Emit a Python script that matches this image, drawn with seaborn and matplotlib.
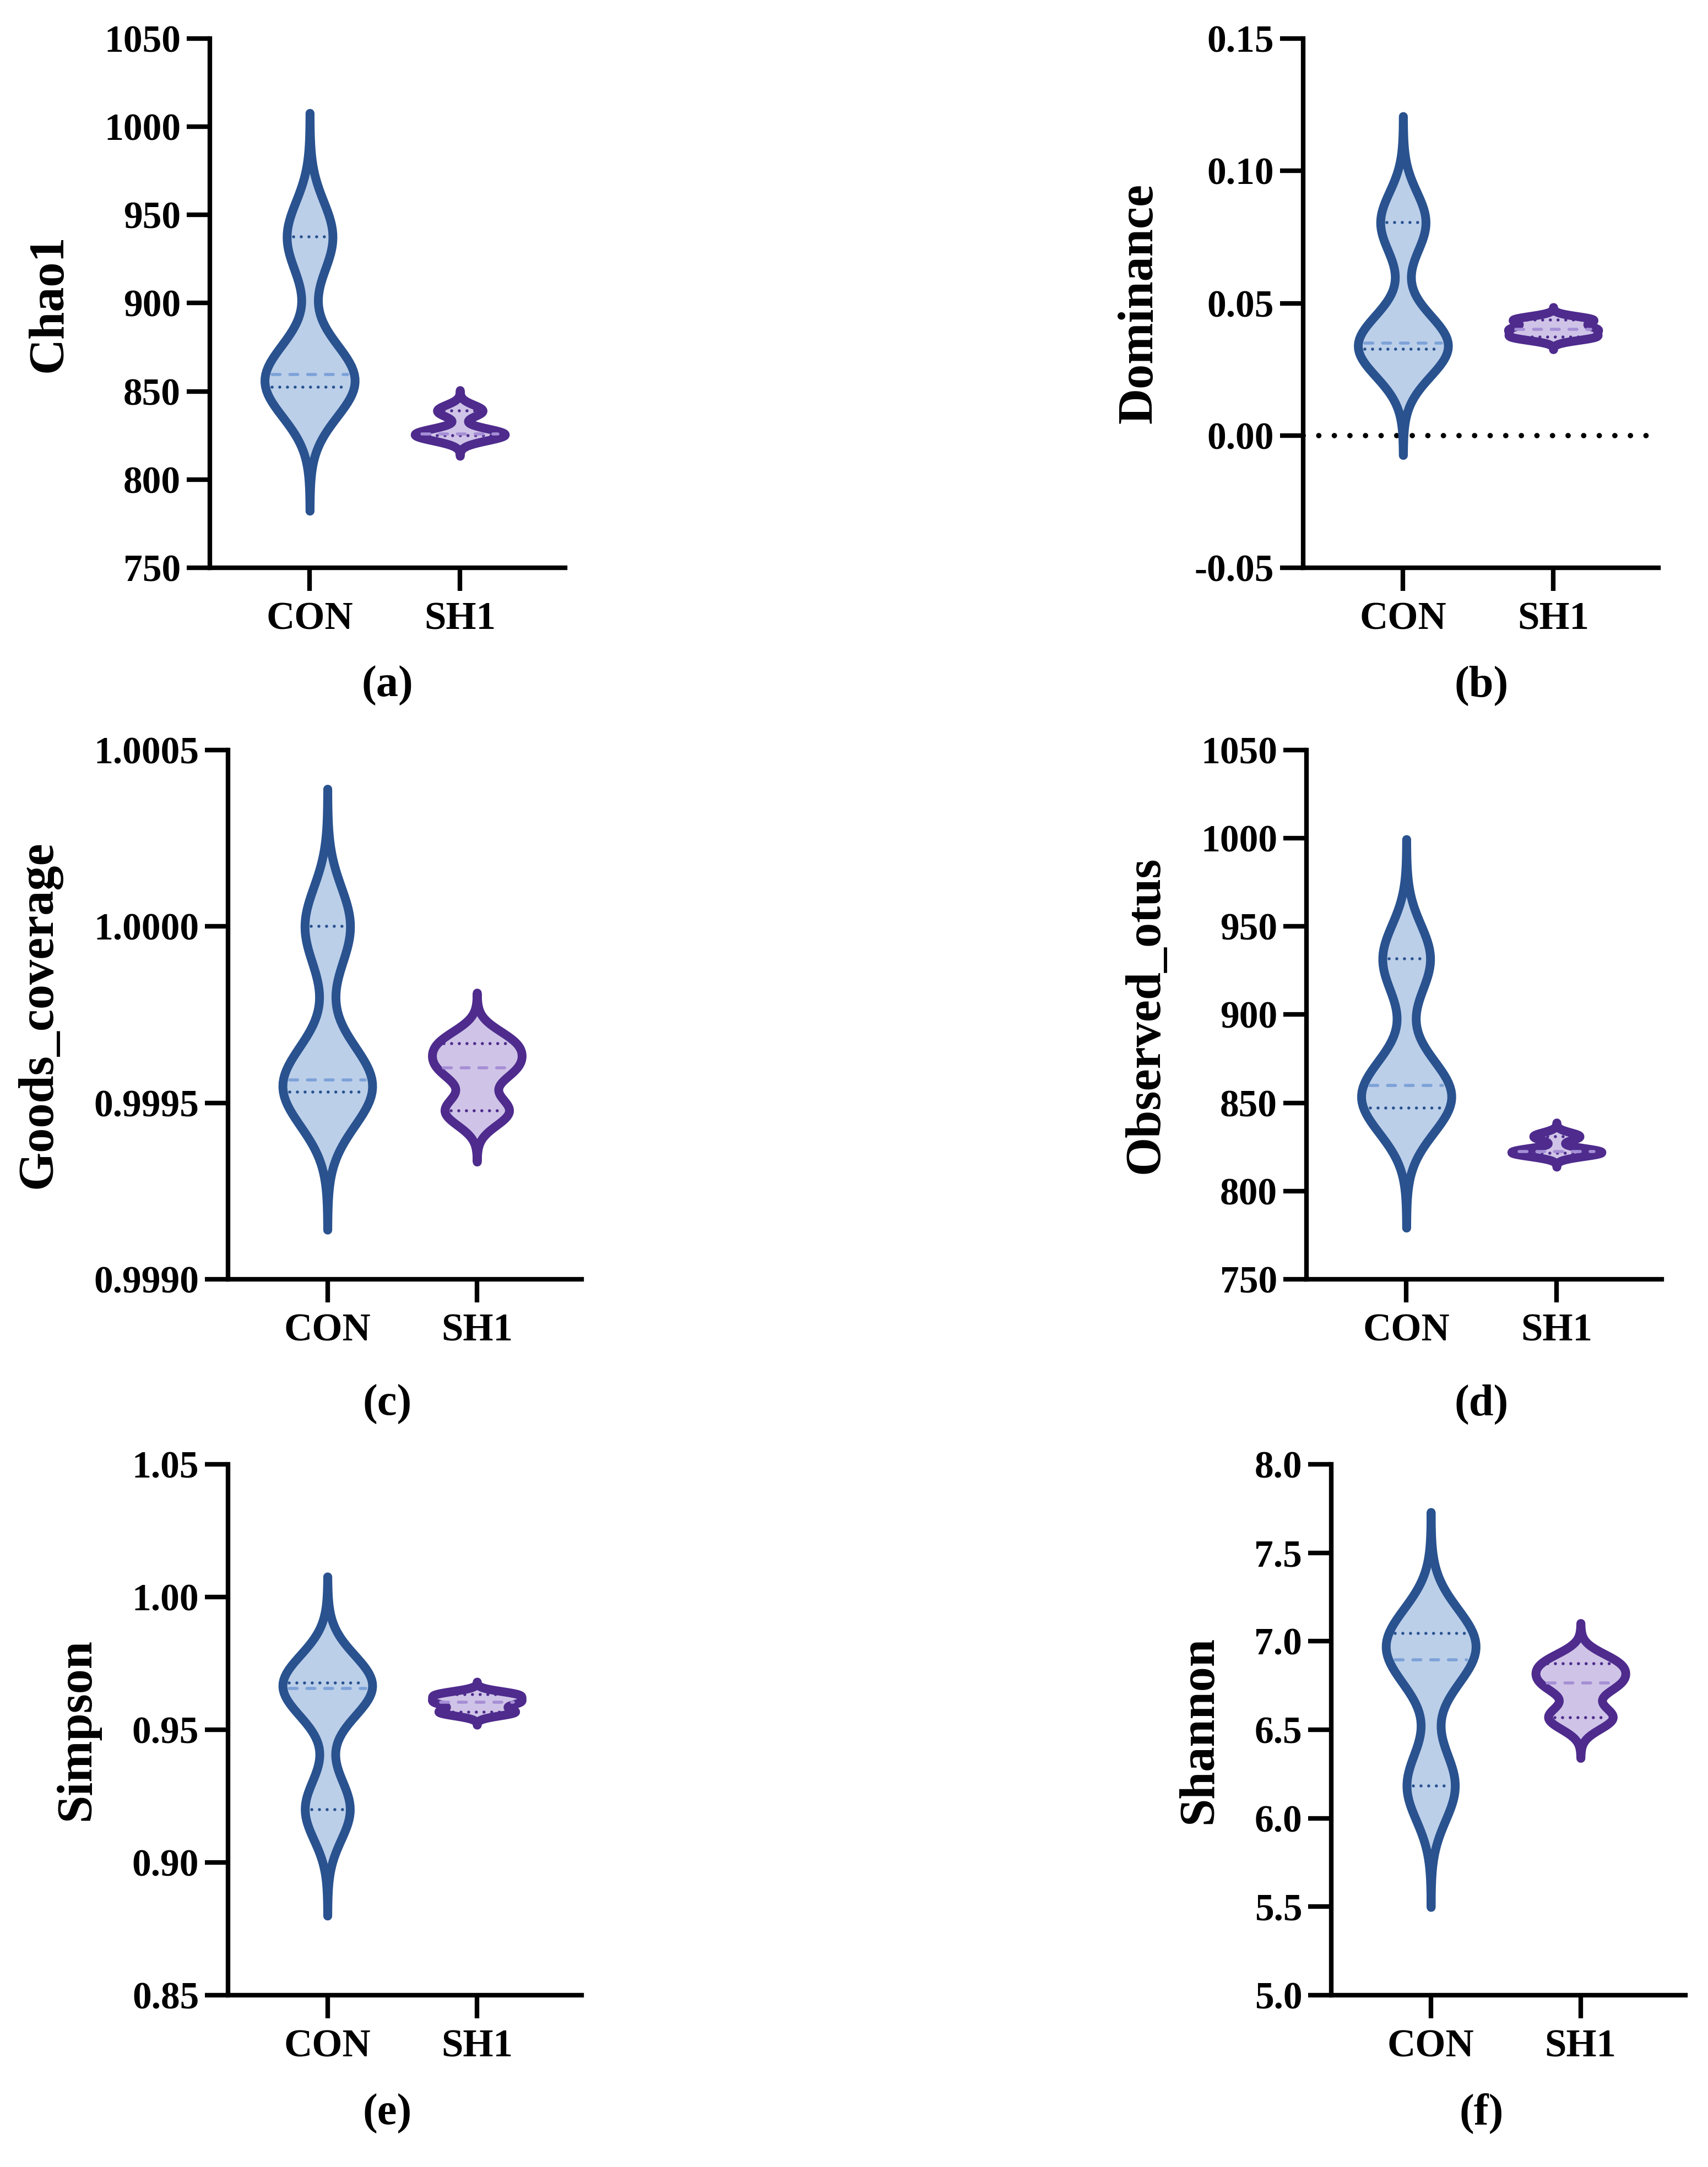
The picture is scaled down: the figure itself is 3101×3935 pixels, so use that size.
import numpy as np
import pandas as pd
import matplotlib
matplotlib.use("Agg")
import matplotlib.pyplot as plt
import seaborn as sns

groups = ["CON", "SH1"]

chao1_con = [852.5, 859.5, 937.5]
chao1_sh1 = [825.0, 826.0, 839.0]
dominance_con = [0.0327, 0.0350, 0.0805]
dominance_sh1 = [0.0373, 0.0402, 0.0437]
goods_con = [0.999530, 0.999565, 1.000000]
goods_sh1 = [0.999477, 0.999599, 0.999668]
otus_con = [847.0, 860.0, 931.6]
otus_sh1 = [821.5, 822.5, 831.0]
simpson_con = [0.9200, 0.9656, 0.9676]
simpson_sh1 = [0.9567, 0.9604, 0.9632]
shannon_con = [6.183, 6.896, 7.044]
shannon_sh1 = [6.569, 6.763, 6.873]

ylabels = ["Chao1", "Dominance", "Goods_coverage", "Observed_otus", "Simpson", "Shannon"]
captions = ["(a)", "(b)", "(c)", "(d)", "(e)", "(f)"]
yticks = [
    np.arange(750, 1051, 50),
    np.linspace(-0.05, 0.15, 5),
    np.linspace(0.9990, 1.0005, 4),
    np.arange(750, 1051, 50),
    np.linspace(0.85, 1.05, 5),
    np.linspace(5.0, 8.0, 7),
]
yfmt = ["%d", "%.2f", "%.4f", "%d", "%.2f", "%.1f"]
series = [
    (chao1_con, chao1_sh1),
    (dominance_con, dominance_sh1),
    (goods_con, goods_sh1),
    (otus_con, otus_sh1),
    (simpson_con, simpson_sh1),
    (shannon_con, shannon_sh1),
]

fill_colors = ["#BCCFE9", "#CFC4E7"]
edge_colors = ["#29528F", "#4E2B8D"]
median_colors = ["#7DA2D8", "#A58FD6"]

sns.set_style("ticks")
plt.rcParams["font.family"] = ["Liberation Serif", "DejaVu Serif"]
plt.rcParams["font.weight"] = "bold"
plt.rcParams["axes.spines.top"] = False
plt.rcParams["axes.spines.right"] = False
plt.rcParams["text.color"] = "black"
plt.rcParams["axes.labelcolor"] = "black"
plt.rcParams["xtick.color"] = "black"
plt.rcParams["ytick.color"] = "black"

W, H = 3101, 3935
fig = plt.figure(figsize=(W / 100, H / 100), dpi=100)

# axes boxes in pixels: left, top, right, bottom
boxes = [
    (381, 70, 1026, 1031),
    (2366, 70, 3011, 1031),
    (414, 1362, 1056, 2323),
    (2372, 1362, 3017, 2323),
    (414, 2659, 1056, 3623),
    (2417, 2659, 3060, 3623),
]
caption_pos = [(703, 1245), (2690, 1245), (703, 2550), (2690, 2550), (703, 3838), (2690, 3838)]
xmin, xmax = -0.665, 1.70
edge_lw = 11.5

for k in range(6):
    x0, y0, x1, y1 = boxes[k]
    ax = fig.add_axes([x0 / W, 1 - y1 / H, (x1 - x0) / W, (y1 - y0) / H])
    con, sh1 = series[k]
    df = pd.DataFrame({"group": ["CON"] * len(con) + ["SH1"] * len(sh1), "value": list(con) + list(sh1)})

    sns.violinplot(data=df, x="group", y="value", hue="group", order=groups, hue_order=groups,
                   palette=fill_colors, saturation=1, density_norm="width", width=0.6,
                   bw_adjust=0.53, cut=3.5, inner=None, linewidth=edge_lw, legend=False, ax=ax)

    polys = ax.collections[:2]
    px = (xmax - xmin) / (x1 - x0)
    shrink = (edge_lw / 0.72) / 2 * px + 4 * px
    for i, poly in enumerate(polys):
        poly.set_edgecolor(edge_colors[i])
        poly.set_facecolor(fill_colors[i])
        poly.set_joinstyle("round")
        poly.set_capstyle("round")
        poly.set_zorder(2)
        verts = poly.get_paths()[0].vertices
        side = verts[verts[:, 0] >= i]
        order_y = np.argsort(side[:, 1])
        ys, xs = side[order_y, 1], side[order_y, 0] - i
        vals = np.asarray(series[k][i])
        q1, med, q3 = np.percentile(vals, [25, 50, 75], method="weibull")
        for q, style in [(q1, "dot"), (q3, "dot"), (med, "dash")]:
            hw = np.interp(q, ys, xs) - shrink
            if hw <= 0:
                continue
            if style == "dot":
                ax.plot([i - hw, i + hw], [q, q], color=edge_colors[i], lw=4,
                        linestyle=(0, (0.01, 2.5)), dash_capstyle="round", zorder=3)
            else:
                ax.plot([i - hw, i + hw], [q, q], color=median_colors[i], lw=4,
                        linestyle=(0, (2.6, 3.2)), dash_capstyle="round", zorder=3)

    if ylabels[k] == "Dominance":
        ax.axhline(0, color="black", lw=7, linestyle=(0, (0.01, 2.9)),
                   dash_capstyle="round", zorder=1)

    ax.set_xlim(xmin, xmax)
    ax.set_ylim(yticks[k][0], yticks[k][-1])
    ax.set_yticks(yticks[k])
    ax.yaxis.set_major_formatter(matplotlib.ticker.FormatStrFormatter(yfmt[k]))
    ax.set_xticks([0, 1])
    ax.set_xticklabels(groups)
    ax.set_xlabel("")
    ax.set_ylabel(ylabels[k], fontsize=65, fontweight="bold", labelpad=42)
    for s in ["left", "bottom"]:
        ax.spines[s].set_linewidth(6)
        ax.spines[s].set_color("black")
    ax.tick_params(axis="both", direction="out", length=30, width=6, color="black")
    ax.tick_params(axis="y", labelsize=50, pad=8)
    ax.tick_params(axis="x", labelsize=51, pad=14)
    for lab in ax.get_xticklabels() + ax.get_yticklabels():
        lab.set_fontweight("bold")

    cx, cy = caption_pos[k]
    fig.text(cx / W, 1 - cy / H, captions[k], ha="center", va="center",
             fontsize=58, fontweight="bold")

fig.savefig("out.png", dpi=100, facecolor="white")
